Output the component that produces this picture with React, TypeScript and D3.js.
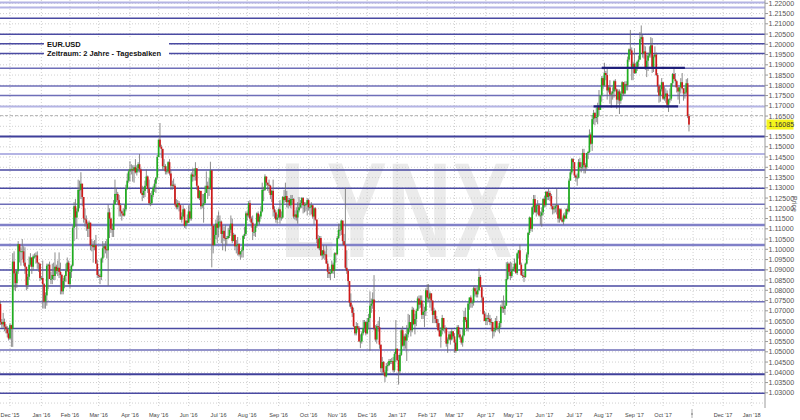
import React from "react";
import * as d3 from "d3";

const W = 800;
const H = 420;

// daily bars, [high, low, close] in 1/10000, open = previous close
const firstOpen = 10665;

const nov15 = [[10761,10672,10733],[10745,10631,10645],[10660,10617,10634],[10690,10615,10646],[10662,10600,10623],[10635,10590,10610],[10625,10570,10590],[10615,10555,10565]];
const dec15 = [[10640,10560,10630],[10632,10524,10612],[10981,10524,10940],[10990,10800,10882],[10896,10796,10835],[10900,10812,10893],[11040,10880,11025],[11015,10936,10990],[11010,10920,10990],[11050,10950,10990],[11015,10920,10935],[11010,10880,10915],[10910,10800,10825],[10880,10806,10866],[10965,10850,10925],[10981,10915,10960],[10955,10880,10915],[10975,10900,10965],[10980,10955,10965],[10985,10930,10970],[10990,10905,10935],[10935,10890,10930],[10930,10845,10860]];
const jan16 = [[10870,10850,10860],[10945,10711,10830],[10835,10711,10745],[10790,10710,10775],[10930,10725,10920],[10930,10805,10925],[10940,10860,10855],[10890,10830,10855],[10930,10830,10875],[10935,10850,10870],[10985,10850,10915],[10925,10880,10895],[10945,10870,10910],[10985,10860,10890],[10935,10780,10875],[10880,10780,10795],[10860,10780,10845],[10875,10810,10870],[10930,10840,10895],[10960,10890,10935],[10945,10830,10830]];
const feb16 = [[10900,10810,10890],[10925,10860,10920],[11115,10915,11105],[11230,11040,11210],[11245,11110,11155],[11200,11050,11185],[11340,11180,11290],[11335,11200,11290],[11376,11245,11320],[11320,11210,11255],[11240,11130,11150],[11200,11110,11145],[11165,11090,11125],[11135,11060,11100],[11140,11060,11130],[11070,10995,11020],[11050,10990,11020],[11040,10935,11010],[11045,10995,11020],[11070,10930,10930],[10950,10860,10875]];
const mar16 = [[10895,10860,10870],[10880,10830,10865],[10960,10850,10955],[11040,10935,11005],[11030,10960,11015],[11040,10980,11000],[11050,10955,10995],[11218,10822,11180],[11200,11055,11150],[11155,11080,11100],[11125,11060,11095],[11240,11060,11220],[11340,11220,11270],[11300,11230,11270],[11280,11220,11240],[11265,11160,11215],[11225,11160,11185],[11190,11140,11175],[11200,11160,11165],[11220,11160,11195],[11315,11185,11295],[11370,11290,11335],[11390,11325,11380]];
const apr16 = [[11430,11330,11390],[11415,11365,11390],[11410,11330,11385],[11410,11325,11400],[11440,11370,11375],[11410,11360,11395],[11425,11375,11415],[11465,11375,11390],[11395,11270,11275],[11310,11235,11265],[11305,11250,11285],[11335,11255,11310],[11390,11305,11355],[11360,11275,11295],[11340,11215,11225],[11275,11210,11225],[11285,11215,11265],[11310,11255,11300],[11340,11280,11320],[11350,11275,11350],[11460,11340,11450]];
const may16 = [[11535,11450,11535],[11616,11495,11500],[11510,11445,11490],[11455,11385,11405],[11440,11385,11405],[11415,11365,11380],[11405,11365,11380],[11430,11370,11425],[11440,11360,11370],[11385,11290,11310],[11335,11290,11315],[11345,11300,11310],[11320,11210,11220],[11245,11195,11205],[11240,11195,11225],[11235,11185,11215],[11220,11145,11145],[11180,11130,11160],[11215,11155,11195],[11200,11105,11115],[11140,11100,11140],[11170,11120,11130]];
const jun16 = [[11215,11130,11185],[11220,11140,11150],[11375,11140,11365],[11395,11330,11355],[11395,11335,11360],[11425,11335,11395],[11385,11290,11310],[11310,11245,11250],[11290,11240,11285],[11270,11195,11210],[11270,11200,11215],[11270,11130,11225],[11310,11220,11275],[11380,11290,11310],[11330,11245,11295],[11350,11260,11300],[11427,11290,11385],[11385,10912,11115],[11080,10980,11020],[11120,11030,11070],[11145,11050,11125],[11165,11030,11105]];
const jul16 = [[11185,11060,11135],[11165,11110,11135],[11140,11030,11075],[11120,10995,11090],[11110,11040,11055],[11120,10990,11050],[11065,11020,11055],[11105,11050,11065],[11120,11055,11095],[11165,11080,11125],[11150,11030,11040],[11080,11040,11070],[11075,10995,11015],[11045,10980,11020],[11060,10970,11025],[11030,10965,10975],[10990,10950,10990],[11010,10960,10995],[11070,10960,11065],[11110,11050,11075],[11185,11065,11175]];
const aug16 = [[11185,11140,11165],[11235,11155,11225],[11240,11135,11150],[11160,11105,11130],[11165,11045,11085],[11110,11065,11085],[11125,11060,11115],[11180,11105,11175],[11185,11125,11135],[11170,11120,11160],[11210,11150,11185],[11325,11180,11290],[11305,11235,11290],[11366,11285,11355],[11350,11310,11325],[11325,11285,11315],[11340,11275,11310],[11315,11245,11265],[11290,11230,11285],[11340,11160,11195],[11210,11150,11180],[11190,11130,11145],[11170,11125,11155]];
const sep16 = [[11200,11150,11195],[11240,11125,11155],[11185,11140,11155],[11260,11150,11255],[11290,11225,11240],[11325,11230,11260],[11285,11205,11230],[11250,11200,11240],[11250,11210,11215],[11265,11200,11245],[11265,11220,11245],[11250,11150,11160],[11190,11145,11170],[11205,11140,11155],[11230,11125,11190],[11255,11180,11205],[11240,11200,11225],[11255,11200,11250],[11255,11175,11215],[11230,11180,11215],[11230,11185,11220],[11250,11165,11240]];
const oct16 = [[11245,11190,11205],[11220,11165,11205],[11230,11170,11215],[11210,11150,11160],[11205,11120,11200],[11205,11140,11145],[11145,11030,11050],[11070,11005,11005],[11065,10995,11055],[11065,10970,10970],[10995,10950,10995],[11020,10955,10975],[10990,10950,10975],[11020,10935,10930],[10945,10860,10890],[10915,10860,10880],[10900,10850,10885],[10945,10880,10925],[10935,10880,10895],[10985,10860,10980],[10985,10935,10975]];
const nov16 = [[11065,10975,11055],[11125,11050,11095],[11125,11065,11095],[11145,11070,11140],[11115,11020,11040],[11075,11020,11020],[11300,10900,10910],[10995,10880,10895],[10900,10825,10845],[10825,10720,10740],[10785,10710,10720],[10730,10670,10690],[10715,10620,10625],[10625,10580,10590],[10645,10580,10625],[10640,10605,10615],[10625,10550,10550],[10585,10518,10550],[10600,10540,10590],[10655,10580,10615],[10655,10595,10645],[10650,10580,10590]];
const dec16 = [[10665,10585,10645],[10685,10610,10665],[10795,10505,10725],[10760,10690,10735],[10790,10710,10755],[10874,10605,10615],[10630,10550,10560],[10635,10540,10625],[10650,10600,10620],[10670,10515,10535],[10535,10400,10420],[10475,10390,10450],[10455,10385,10400],[10410,10352,10380],[10445,10375,10430],[10450,10405,10435],[10465,10430,10455],[10465,10440,10455],[10470,10440,10455],[10475,10400,10410],[10500,10400,10490],[10655,10450,10515]];
const jan17 = [[10475,10455,10460],[10485,10340,10405],[10495,10390,10485],[10615,10480,10605],[10625,10525,10530],[10585,10510,10575],[10590,10515,10555],[10630,10455,10585],[10685,10570,10615],[10680,10595,10645],[10625,10575,10605],[10720,10595,10705],[10715,10630,10635],[10685,10585,10660],[10710,10625,10700],[10770,10705,10760],[10775,10710,10730],[10775,10715,10750],[10775,10660,10680],[10735,10660,10695],[10720,10620,10700],[10810,10675,10800]];
const feb17 = [[10830,10745,10765],[10830,10745,10760],[10795,10715,10785],[10780,10700,10750],[10710,10640,10680],[10715,10640,10700],[10705,10640,10660],[10675,10620,10640],[10660,10600,10605],[10640,10575,10575],[10620,10520,10605],[10680,10585,10665],[10665,10600,10615],[10630,10590,10615],[10620,10525,10540],[10570,10495,10560],[10600,10555,10585],[10600,10535,10560],[10610,10555,10600],[10600,10565,10575]];
const mar17 = [[10590,10495,10545],[10560,10495,10505],[10630,10505,10620],[10630,10570,10585],[10605,10560,10570],[10575,10535,10545],[10615,10525,10580],[10700,10575,10670],[10715,10645,10655],[10665,10600,10615],[10745,10600,10735],[10765,10705,10765],[10775,10715,10740],[10755,10715,10740],[10820,10725,10810],[10825,10770,10795],[10815,10765,10780],[10820,10765,10800],[10906,10795,10865],[10875,10815,10815],[10825,10740,10765],[10770,10680,10685],[10700,10650,10650]];
const apr17 = [[10690,10630,10665],[10680,10630,10665],[10690,10645,10660],[10680,10630,10645],[10665,10600,10645],[10610,10565,10600],[10615,10575,10605],[10665,10595,10650],[10675,10605,10615],[10625,10600,10615],[10650,10590,10640],[10730,10620,10720],[10750,10690,10715],[10775,10690,10710],[10740,10680,10725],[10937,10825,10855],[10940,10850,10930],[10935,10870,10890],[10940,10850,10870],[10935,10860,10895]];
const may17 = [[10915,10890,10905],[10955,10890,10930],[10935,10880,10885],[10985,10875,10980],[10995,10955,10995],[11023,10925,10925],[10935,10870,10875],[10900,10860,10870],[10890,10840,10865],[10935,10860,10930],[10985,10925,10975],[11085,10960,11080],[11160,11070,11155],[11155,11090,11100],[11210,11085,11205],[11265,11170,11245],[11265,11180,11180],[11210,11160,11215],[11240,11170,11215],[11225,11160,11165],[11185,11120,11165],[11205,11110,11180],[11250,11165,11245]];
const jun17 = [[11260,11205,11215],[11285,11205,11280],[11285,11240,11255],[11295,11240,11275],[11285,11235,11260],[11270,11195,11210],[11215,11170,11195],[11220,11175,11200],[11220,11180,11210],[11295,11170,11215],[11210,11130,11150],[11200,11130,11195],[11200,11140,11145],[11155,11130,11135],[11175,11120,11165],[11180,11145,11150],[11200,11150,11195],[11215,11170,11185],[11345,11180,11335],[11390,11340,11375],[11445,11365,11440],[11445,11395,11425]];
const jul17 = [[11425,11350,11360],[11365,11330,11350],[11370,11310,11350],[11440,11345,11425],[11445,11380,11400],[11425,11375,11400],[11490,11390,11470],[11490,11370,11410],[11420,11370,11400],[11470,11390,11470],[11480,11440,11475],[11585,11470,11560],[11570,11510,11515],[11655,11480,11635],[11680,11610,11665],[11670,11605,11640],[11690,11620,11645],[11715,11610,11700],[11777,11650,11680],[11750,11680,11750],[11845,11720,11835]];
const aug17 = [[11845,11780,11800],[11910,11795,11860],[11870,11825,11850],[11880,11730,11775],[11800,11765,11790],[11825,11710,11755],[11770,11690,11760],[11790,11730,11770],[11825,11740,11820],[11830,11770,11780],[11785,11685,11730],[11780,11710,11770],[11780,11660,11725],[11770,11710,11760],[11820,11730,11815],[11815,11750,11760],[11820,11755,11805],[11820,11775,11800],[11940,11775,11925],[11980,11915,11975],[12070,11950,11970],[11985,11825,11890],[11915,11825,11905]];
const sep17 = [[11980,11855,11860],[11910,11855,11890],[11920,11870,11915],[11945,11890,11925],[12060,11930,12025],[12092,12010,12035],[12045,11935,11955],[11995,11930,11965],[11990,11875,11885],[11950,11840,11920],[11960,11870,11945],[11990,11935,11955],[12035,11935,11995],[12030,11860,11890],[11950,11865,11940],[11990,11935,11950],[11960,11845,11850],[11860,11765,11795],[11805,11715,11750],[11800,11720,11780],[11835,11770,11815]];
const oct17 = [[11815,11730,11735],[11795,11725,11745],[11785,11715,11760],[11775,11690,11705],[11735,11670,11730],[11785,11715,11735],[11805,11725,11810],[11860,11795,11855],[11880,11830,11830],[11860,11790,11820],[11825,11765,11790],[11790,11730,11770],[11785,11710,11790],[11835,11760,11815],[11860,11780,11785],[11785,11725,11760],[11790,11735,11765],[11830,11755,11810],[11835,11640,11650],[11660,11575,11608.5]];

// [year, month (0-based), first day, bars]
const blocks: [number, number, number, number[][]][] = [
  [2015, 10, 19, nov15], [2015, 11, 1, dec15],
  [2016, 0, 1, jan16], [2016, 1, 1, feb16], [2016, 2, 1, mar16], [2016, 3, 1, apr16],
  [2016, 4, 1, may16], [2016, 5, 1, jun16], [2016, 6, 1, jul16], [2016, 7, 1, aug16],
  [2016, 8, 1, sep16], [2016, 9, 1, oct16], [2016, 10, 1, nov16], [2016, 11, 1, dec16],
  [2017, 0, 1, jan17], [2017, 1, 1, feb17], [2017, 2, 1, mar17], [2017, 3, 1, apr17],
  [2017, 4, 1, may17], [2017, 5, 1, jun17], [2017, 6, 1, jul17], [2017, 7, 1, aug17],
  [2017, 8, 1, sep17], [2017, 9, 1, oct17],
];

const monthLabels = ["Dec '15", "Jan '16", "Feb '16", "Mar '16", "Apr '16", "May '16", "Jun '16", "Jul '16", "Aug '16", "Sep '16", "Oct '16", "Nov '16", "Dec '16", "Jan '17", "Feb '17", "Mar '17", "Apr '17", "May '17", "Jun '17", "Jul '17", "Aug '17", "Sep '17", "Oct '17", "", "Dec '17", "Jan '18"];

// support / resistance lines drawn in the chart
const levels = [1.2204, 1.2180, 1.2127, 1.2049, 1.2003, 1.1955, 1.1883, 1.1797, 1.1750, 1.1696, 1.1550, 1.1465, 1.1387, 1.1298, 1.1220, 1.1119, 1.1021, 1.0899, 1.0821, 1.0744, 1.0614, 1.0509, 1.0391, 1.0298];
const levelKind = ["l", "l", "d", "d", "d", "d", "m", "m", "m", "l", "D", "l", "d", "d", "m", "M", "M", "d", "d", "m", "d", "m", "D", "d"];

// range lines on the top of the chart
const rangeLines: [string, string, number][] = [
  ["2017-07-31", "2017-10-24", 1.1885],
  ["2017-07-21", "2017-10-17", 1.1697],
];

const lastPrice = "1.16085";

const FONT = "Liberation Sans, Arial, sans-serif";

function weekdays(y: number, m: number, d: number, n: number) {
  const out: Date[] = [];
  const dt = new Date(Date.UTC(y, m, d));
  while (out.length < n) {
    const wd = dt.getUTCDay();
    if (wd !== 0 && wd !== 6) out.push(new Date(dt));
    dt.setUTCDate(dt.getUTCDate() + 1);
  }
  return out;
}

const key = (d: Date) => d.toISOString().slice(0, 10);

const App = () => {
  const allDays = weekdays(2015, 10, 19, 600);
  const index = new Map(allDays.map((d, i) => [key(d), i]));
  const idxOf = (y: number, m: number, d: number) => index.get(key(weekdays(y, m, d, 1)[0])) as number;

  const x = d3.scaleLinear().domain([idxOf(2015, 11, 1), idxOf(2018, 0, 1)]).range([10, 751.7]);
  const y = d3.scaleLinear().domain([1.03, 1.22]).range([392.8, 3.3]);

  const candles: { i: number; o: number; h: number; l: number; c: number }[] = [];
  let prev = firstOpen / 10000;
  blocks.forEach(([yy, mm, dd, rows]) => {
    const days = weekdays(yy, mm, dd, rows.length);
    rows.forEach((r, k) => {
      const o = prev;
      const c = r[2] / 10000;
      const h = Math.max(r[0] / 10000, o, c);
      const l = Math.min(r[1] / 10000, o, c);
      candles.push({ i: index.get(key(days[k])) as number, o, h, l, c });
      prev = c;
    });
  });

  const monthIdx = monthLabels.map((_, k) => idxOf(2015 + Math.floor((11 + k) / 12), (11 + k) % 12, 1));
  const gridPrices = d3.range(0, 40).map((k) => +(1.025 + k * 0.005).toFixed(3));
  const plotRight = 765;
  const plotBottom = 408;

  const levelStyle = (k: string) => {
    if (k === "D") return { stroke: "#3f3f9a", w: 2 };
    if (k === "d") return { stroke: "#4a4aa2", w: 1.5 };
    if (k === "M") return { stroke: "#8080c8", w: 2.5 };
    if (k === "m") return { stroke: "#6e6eb8", w: 1.5 };
    return { stroke: "#b4b4e4", w: 2 };
  };

  const bw = 1.7;

  return (
    <svg width={W} height={H} style={{ position: "absolute", left: 0, top: 0, display: "block", background: "#fff" }}>
      <rect x={0} y={0} width={W} height={H} fill="#fff" />
      <text x={280} y={257} fontFamily={FONT} fontWeight="bold" fontSize={136} fill="#ebebeb" textLength={232} lengthAdjust="spacingAndGlyphs">LYNX</text>

      {gridPrices.map((p) => (
        <line key={"hg" + p} x1={0} x2={plotRight} y1={y(p)} y2={y(p)} stroke="#c4c4c4" strokeWidth={0.8} strokeDasharray="1,2" />
      ))}
      {monthIdx.map((mi, k) => (
        <line key={"vg" + k} x1={x(mi)} x2={x(mi)} y1={0} y2={plotBottom} stroke="#c4c4c4" strokeWidth={0.8} strokeDasharray="1,2" />
      ))}

      {levels.map((p, k) => {
        const s = levelStyle(levelKind[k]);
        return <line key={"lv" + k} x1={0} x2={plotRight} y1={y(p)} y2={y(p)} stroke={s.stroke} strokeWidth={s.w} />;
      })}
      <line x1={0} x2={plotRight} y1={y(1.1652)} y2={y(1.1652)} stroke="#a0a0a0" strokeWidth={0.8} strokeDasharray="3,2" />

      {candles.map((d, k) => {
        const cx = x(d.i);
        const up = d.c >= d.o;
        const top = y(Math.max(d.o, d.c));
        const bot = y(Math.min(d.o, d.c));
        return (
          <g key={"c" + k}>
            <line x1={cx} x2={cx} y1={y(d.h)} y2={y(d.l)} stroke="#6e6e6e" strokeWidth={0.8} />
            <rect x={cx - bw / 2} y={top} width={bw} height={Math.max(0.8, bot - top)} fill={up ? "#1fae1f" : "#d01a1a"} />
          </g>
        );
      })}

      {rangeLines.map(([a, b, p], k) => (
        <line key={"rl" + k} x1={x(index.get(a) as number)} x2={x(index.get(b) as number)} y1={y(p)} y2={y(p)} stroke="#1f1f7a" strokeWidth={2.2} />
      ))}

      <rect x={44} y={38} width={125} height={20} fill="#fff" />
      <text x={47} y={46.5} fontFamily={FONT} fontWeight="bold" fontSize={7.5} fill="#111">EUR.USD</text>
      <text x={47} y={56} fontFamily={FONT} fontWeight="bold" fontSize={7.5} fill="#111">Zeitraum: 2 Jahre - Tagesbalken</text>

      <line x1={plotRight} x2={plotRight} y1={0} y2={plotBottom} stroke="#9a9a9a" strokeWidth={1} />
      {gridPrices.filter((p) => p >= 1.03 && p <= 1.22).map((p) => (
        <g key={"yt" + p}>
          <line x1={plotRight} x2={plotRight + 3} y1={y(p)} y2={y(p)} stroke="#9a9a9a" />
          {Math.abs(p - 1.16) > 0.001 && (
            <text x={plotRight + 3.5} y={y(p)} dy="0.35em" fontFamily={FONT} fontSize={7.1} fill="#555">{p.toFixed(5)}</text>
          )}
        </g>
      ))}
      <rect x={plotRight + 1.5} y={y(+lastPrice) - 5} width={27} height={10} fill="#f4f41c" />
      <text x={plotRight + 3.5} y={y(+lastPrice)} dy="0.35em" fontFamily={FONT} fontSize={7.1} fill="#333">{lastPrice}</text>
      <text transform="translate(792,196) rotate(90)" fontFamily={FONT} fontSize={7} fill="#555">Price</text>

      {monthIdx.map((mi, k) => (
        <text key={"xl" + k} x={x(mi)} y={417} textAnchor="middle" fontFamily={FONT} fontSize={5.6} fill="#444">{monthLabels[k]}</text>
      ))}
      <line x1={692} x2={692} y1={409} y2={418} stroke="#999" strokeWidth={0.8} />
      <circle cx={692} cy={414} r={1} fill="#999" />
    </svg>
  );
};

export default App;
